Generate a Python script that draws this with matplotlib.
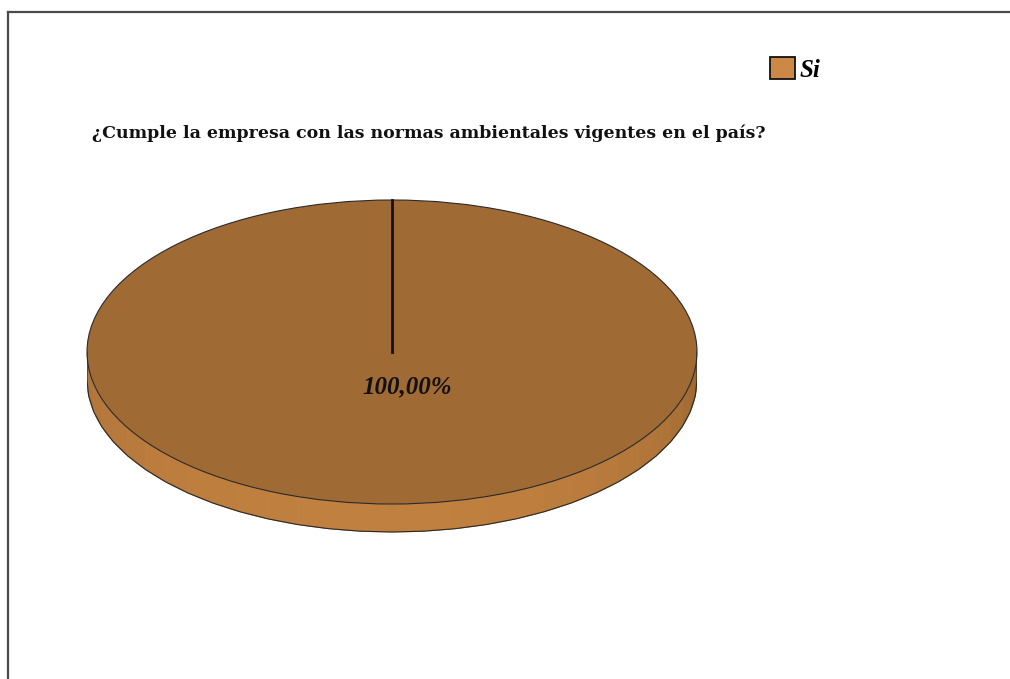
import matplotlib.pyplot as plt
import numpy as np
from matplotlib.lines import Line2D
from matplotlib.patches import Patch, Polygon
from matplotlib.colors import to_rgb

# Survey answer: share of "Si" responses
question = '¿Cumple la empresa con las normas ambientales vigentes en el país?'
categories = ['Si']
values = [100.0]

top_color = '#a06a35'
side_left = '#a66d37'
side_mid = '#c0803f'
side_right = '#8a5a2b'
legend_color = '#cc8845'

W, H = 1010, 679
fig = plt.figure(figsize=(W / 100, H / 100), dpi=100)
fig.patch.set_facecolor('white')

# thin frame on the top and left edges
fig.add_artist(Line2D([7.5 / W, 1], [1 - 11.5 / H] * 2, color='#4a4a4a', lw=1.6))
fig.add_artist(Line2D([7.5 / W] * 2, [0, 1 - 11.5 / H], color='#4a4a4a', lw=1.6))

# pie axes: the disc is flattened into an ellipse by the axes shape
cx, cy, rx, ry = 392, 352, 305, 152
top_px, bot_px = 190, 545
ax = fig.add_axes([(cx - rx) / W, (H - bot_px) / H, 2 * rx / W, (bot_px - top_px) / H])

depth = 28 / ry

# side of the disc, shaded in strips (lit from the lower left)
t = np.linspace(np.pi, 2 * np.pi, 31)
cl, cm, cr = (np.array(to_rgb(c)) for c in (side_left, side_mid, side_right))
for a, b in zip(t[:-1], t[1:]):
    tt = np.linspace(a, b, 8)
    xs = np.cos(tt)
    ys = np.sin(tt)
    poly = np.column_stack([np.r_[xs, xs[::-1]], np.r_[ys, ys[::-1] - depth]])
    u = ((a + b) / 2 - np.pi) / np.pi
    k = np.sin(u * np.pi) ** 0.5
    col = cl + (cm - cl) * k if u < 0.5 else cr + (cm - cr) * k
    ax.add_patch(Polygon(poly, closed=True, facecolor=col, edgecolor=col, lw=0.6))
ax.plot(np.r_[-1, np.cos(t), 1], np.r_[0, np.sin(t) - depth, 0], color='#2a2a2a', lw=0.8)

wedges, texts, autotexts = ax.pie(
    values, colors=[top_color], startangle=90, radius=1,
    wedgeprops=dict(edgecolor='#2a2a2a', linewidth=0.8),
    autopct=lambda p: f'{p:.2f}'.replace('.', ',') + '%', pctdistance=0.23,
    textprops=dict(fontsize=18, fontweight='bold', fontstyle='italic',
                   family='Liberation Serif', color='#111111'))
for txt in autotexts:
    x, y = txt.get_position()
    txt.set_position((x + 0.05, y))

# radial edge of the single slice at the start angle
ang = np.deg2rad(90)
ax.plot([0, np.cos(ang)], [0, np.sin(ang)], color='#111111', lw=2)

ax.set_xlim(-1, 1)
ax.set_ylim(-(bot_px - cy) / ry, (cy - top_px) / ry)
ax.set_aspect('auto')
ax.axis('off')

fig.text(92 / W, 1 - 133 / H, question, fontsize=12.5, fontweight='bold',
         family='DejaVu Serif', va='center', ha='left', color='#111111')

fig.legend(handles=[Patch(facecolor=legend_color, edgecolor='#111111', lw=1.3)],
           labels=categories, loc='upper left', bbox_to_anchor=(770 / W, 1 - 57 / H),
           frameon=False, borderpad=0, borderaxespad=0, handlelength=1.0,
           handleheight=1.0, handletextpad=0.2,
           prop=dict(family='Liberation Serif', weight='bold', style='italic', size=18))

fig.savefig('out.png', dpi=100, facecolor='white')
